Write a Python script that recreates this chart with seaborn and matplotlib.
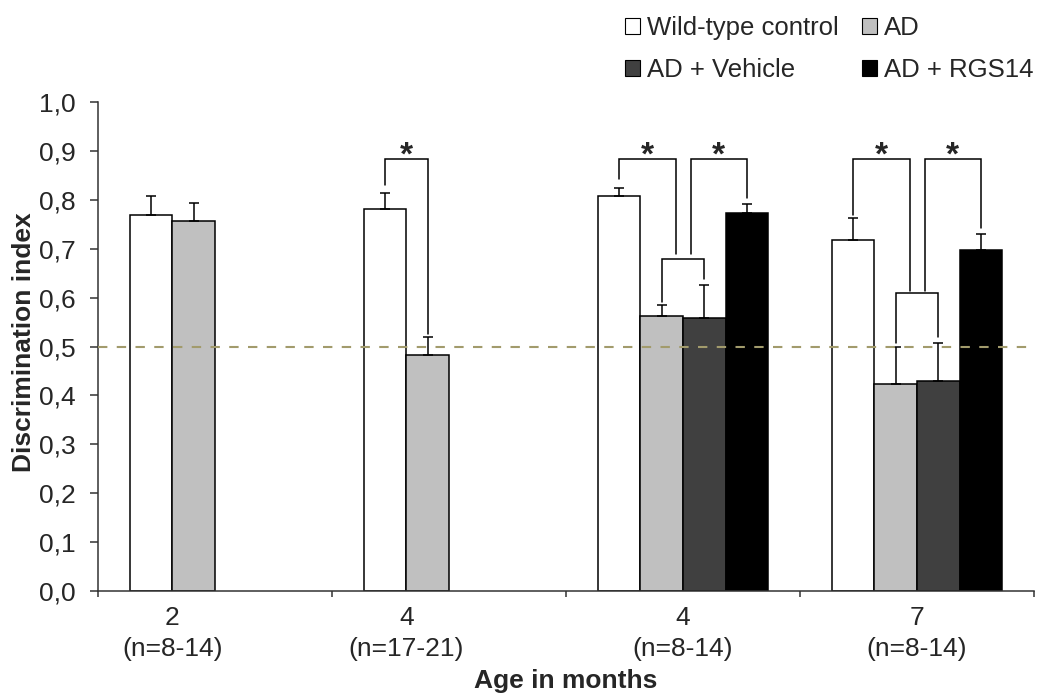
import numpy as np
import pandas as pd
import matplotlib
matplotlib.use("Agg")
import matplotlib.pyplot as plt
from matplotlib.patches import Patch
from matplotlib.ticker import FuncFormatter
import seaborn as sns

# ---- data -------------------------------------------------------------
ages = ["2", "4", "4", "7"]
cohorts = ["(n=8-14)", "(n=17-21)", "(n=8-14)", "(n=8-14)"]
groups = ["Wild-type control", "AD", "AD + Vehicle", "AD + RGS14"]

wt_mean = [0.768, 0.781, 0.807, 0.718]
wt_sem = [0.040, 0.033, 0.018, 0.044]
ad_mean = [0.756, 0.482, 0.563, 0.423]
ad_sem = [0.038, 0.038, 0.021, 0.076]
veh_mean = [np.nan, np.nan, 0.559, 0.430]
veh_sem = [np.nan, np.nan, 0.066, 0.077]
rgs_mean = [np.nan, np.nan, 0.772, 0.698]
rgs_sem = [np.nan, np.nan, 0.020, 0.033]

chance_level = 0.5
y_ticks = [0.0, 0.1, 0.2, 0.3, 0.4, 0.5, 0.6, 0.7, 0.8, 0.9, 1.0]

# significance brackets: (category, left slot, right slot, top, left end, right end)
brackets = [
    (1, 0.0, 1.0, 0.884, 0.830, 0.525),
    (2, 0.0, 1.34, 0.884, 0.843, 0.689),
    (2, 1.68, 3.0, 0.884, 0.689, 0.803),
    (2, 1.0, 2.0, 0.679, 0.590, 0.638),
    (3, 0.0, 1.34, 0.884, 0.769, 0.614),
    (3, 1.68, 3.0, 0.884, 0.614, 0.742),
    (3, 1.0, 2.0, 0.610, 0.507, 0.519),
]
starred = [0, 1, 2, 4, 5]

colors = {
    "Wild-type control": "#FFFFFF",
    "AD": "#C0C0C0",
    "AD + Vehicle": "#404040",
    "AD + RGS14": "#000000",
}

# ---- long-form table --------------------------------------------------
means = dict(zip(groups, [wt_mean, ad_mean, veh_mean, rgs_mean]))
sems = dict(zip(groups, [wt_sem, ad_sem, veh_sem, rgs_sem]))
cat_labels = [f"{a}\n{c}" for a, c in zip(ages, cohorts)]

rows = []
for i, lab in enumerate(cat_labels):
    for g in groups:
        if not np.isnan(means[g][i]):
            rows.append({"age": lab, "group": g, "mean": means[g][i]})
df = pd.DataFrame(rows)

# ---- figure -----------------------------------------------------------
sns.set_style("white")
plt.rcParams["font.family"] = ["Liberation Sans", "DejaVu Sans"]

FS = 19
W, H = 1039, 693
fig = plt.figure(figsize=(W / 100, H / 100), dpi=100)
ax = fig.add_axes([98 / W, 1 - 591 / H, (1034 - 98) / W, (591 - 102) / H])

bar_width = 0.73
sns.barplot(
    data=df, x="age", y="mean", hue="group",
    order=cat_labels, hue_order=groups, palette=colors,
    saturation=1, width=bar_width, errorbar=None,
    edgecolor="black", linewidth=1.1, legend=False, ax=ax,
)

# upper error bars (SEM)
centers = {}
for cont, g in zip(ax.containers, groups):
    for bar in cont:
        cx = bar.get_x() + bar.get_width() / 2
        i = int(round(cx))
        centers.setdefault(i, []).append(cx)
        ax.errorbar(cx, bar.get_height(), yerr=[[0], [sems[g][i]]],
                    fmt="none", ecolor="black", elinewidth=1.1,
                    capsize=3.3, capthick=1.1, zorder=4)

# chance level
ax.axhline(chance_level, color="#A29B6C", lw=1.5, dashes=(4.5, 4.5), zorder=5)

# brackets and stars
slot = bar_width / len(groups)
for k, (c, sl, sr, top, yl, yr) in enumerate(brackets):
    xl = c + (sl - 1.5) * slot
    xr = c + (sr - 1.5) * slot
    ax.plot([xl, xl, xr, xr], [yl, top, top, yr], color="black",
            lw=1.1, solid_joinstyle="miter", zorder=6)
    if k in starred:
        ax.text((xl + xr) / 2, top - 0.026, "*", ha="center", va="bottom",
                fontsize=24, fontweight="bold", zorder=6)

# axes
ax.set_ylim(0, 1.0)
ax.set_xlim(-0.5, len(cat_labels) - 0.5)
ax.set_yticks(y_ticks)
ax.yaxis.set_major_formatter(FuncFormatter(lambda v, p: f"{v:.1f}".replace(".", ",")))
ax.tick_params(axis="y", direction="out", length=6, width=1.1, color="#333333",
               labelsize=FS, pad=10, left=True)

ax.set_xticks(np.arange(len(cat_labels) + 1) - 0.5)
ax.set_xticklabels([])
ax.tick_params(axis="x", which="major", direction="out", length=4.5, width=1.1,
               color="#333333", bottom=True)
ax.set_xticks([np.mean(centers[i]) for i in range(len(cat_labels))], minor=True)
ax.set_xticklabels(cat_labels, minor=True, linespacing=1.35)
ax.tick_params(axis="x", which="minor", length=0, labelsize=FS, pad=11)

for s in ["top", "right"]:
    ax.spines[s].set_visible(False)
for s in ["left", "bottom"]:
    ax.spines[s].set_color("#333333")
    ax.spines[s].set_linewidth(1.1)

ax.set_xlabel("Age in months", fontsize=FS, fontweight="bold", labelpad=6)
ax.set_ylabel("Discrimination index", fontsize=FS, fontweight="bold")
ax.yaxis.set_label_coords(-0.066, 0.509)

handles = [Patch(facecolor=colors[g], edgecolor="black", linewidth=0.8, label=g)
           for g in groups]
order = [0, 2, 1, 3]
fig.legend([handles[i] for i in order], [groups[i] for i in order],
           ncol=2, frameon=False, loc="upper left",
           bbox_to_anchor=(625 / W, 1 - 16 / H), borderpad=0, borderaxespad=0,
           handlelength=0.6, handleheight=0.6, handletextpad=0.25,
           columnspacing=0.9, labelspacing=0.7, fontsize=18.5)

fig.savefig("out.png", dpi=100)
